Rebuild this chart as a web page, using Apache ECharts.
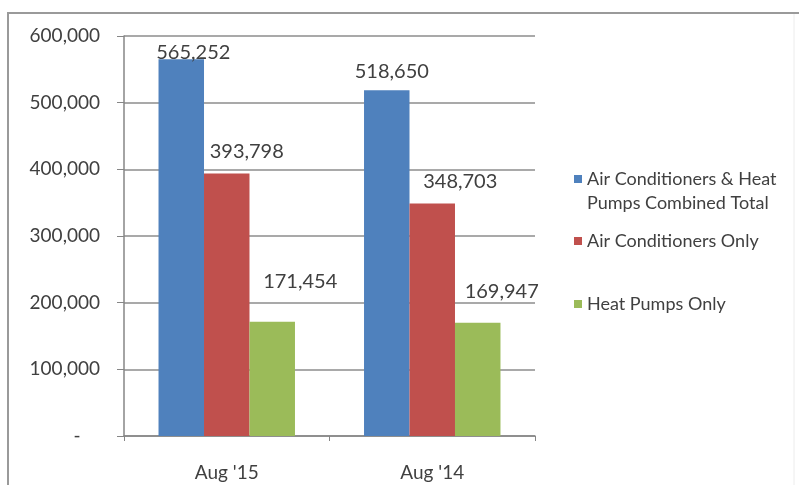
<!DOCTYPE html>
<html>
<head>
<meta charset="utf-8">
<script src="https://cdn.jsdelivr.net/npm/echarts@6/dist/echarts.min.js"></script>
<style>
    html, body { margin: 0; padding: 0; background: #fff; }
    #myChart { width: 799px; height: 485px; }
</style>
</head>
<body>
<div id="myChart"></div>
<script>
// 数据
var categories = ["Aug '15", "Aug '14"];
var seriesNames = [
    'Air Conditioners & Heat Pumps Combined Total',
    'Air Conditioners Only',
    'Heat Pumps Only'
];
var combinedTotal = [565252, 518650];
var acOnly = [393798, 348703];
var heatPumpsOnly = [171454, 169947];
var yTicks = [0, 100000, 200000, 300000, 400000, 500000, 600000];

// 标签偏移（Excel里手动拖过的位置）
var labelShift = [
    [[12, 8], [5, -4]],
    [[20, -7], [28, -7]],
    [[28, -25], [24, -16]]
];
var colors = ['#4F81BD', '#C0504D', '#9BBB59'];
var textColor = '#404040';
var fontName = 'Lato';

window.onload = function () {
    var myChart = echarts.init(document.getElementById('myChart'));

    var allData = [combinedTotal, acOnly, heatPumpsOnly];

    var series = allData.map(function (vals, s) {
        return {
            name: seriesNames[s],
            type: 'bar',
            barGap: 0,
            barCategoryGap: '33.6%',
            itemStyle: { color: colors[s] },
            data: vals.map(function (v, i) {
                return {
                    value: v,
                    label: { offset: labelShift[s][i] }
                };
            }),
            label: {
                show: true,
                position: 'top',
                color: textColor,
                fontFamily: fontName,
                fontSize: 20,
                formatter: function (p) {
                    return p.value.toLocaleString('en-US');
                }
            }
        };
    });

    // 第一个图例两行，图标对齐第一行：前面补一个空行让第一行居中
    var legendTops = [138, 224, 287];
    var legends = seriesNames.map(function (name, s) {
        return {
            data: [name],
            left: 569,
            top: legendTops[s],
            orient: 'vertical',
            icon: 'rect',
            itemWidth: 8,
            itemHeight: 8,
            selectedMode: false,
            formatter: function (n) {
                return s === 0 ? '\n' + n.replace('& Heat ', '& Heat\n') : n;
            },
            textStyle: {
                color: textColor,
                fontFamily: fontName,
                fontSize: 18,
                lineHeight: 24
            }
        };
    });

    var option = {
        backgroundColor: '#fff',
        animation: false,
        grid: {
            left: 124,
            right: 264,
            top: 36,
            bottom: 49
        },
        legend: legends,
        xAxis: {
            type: 'category',
            data: categories,
            axisLine: { lineStyle: { color: '#868686', width: 1.5 } },
            axisTick: { show: true, length: 5, lineStyle: { color: '#868686' } },
            axisLabel: {
                color: textColor,
                fontFamily: fontName,
                fontSize: 19,
                margin: 27
            }
        },
        yAxis: {
            type: 'value',
            min: yTicks[0],
            max: yTicks[yTicks.length - 1],
            interval: yTicks[1] - yTicks[0],
            axisLine: { show: true, lineStyle: { color: '#868686', width: 1.5 } },
            axisTick: { show: true, length: 7, lineStyle: { color: '#868686' } },
            splitLine: { lineStyle: { color: '#8c8c8c', width: 1.5 } },
            axisLabel: {
                color: textColor,
                fontFamily: fontName,
                fontSize: 19,
                margin: 24,
                formatter: function (v) {
                    return v === 0 ? '-    ' : v.toLocaleString('en-US');
                }
            }
        },
        graphic: [{
            type: 'polyline',
            shape: { points: [[8, 485], [8, 13], [799, 13]] },
            style: { stroke: '#9a9a9a', lineWidth: 2, fill: null },
            silent: true
        }, {
            type: 'line',
            shape: { x1: 794, y1: 14, x2: 794, y2: 485 },
            style: { stroke: '#ececec', lineWidth: 1 },
            silent: true
        }],
        series: series
    };

    myChart.setOption(option);
};
</script>
</body>
</html>
